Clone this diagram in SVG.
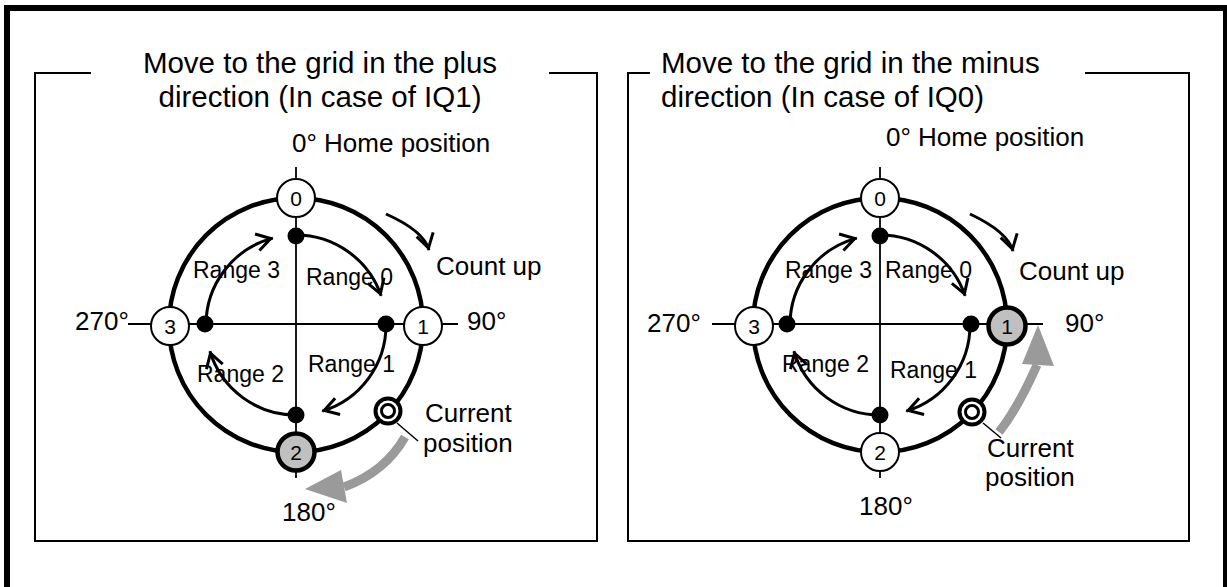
<svg xmlns="http://www.w3.org/2000/svg" width="1227" height="587" viewBox="0 0 1227 587">
<style>
text{font-family:"Liberation Sans",Arial,sans-serif;fill:#000}
.title{font-size:29.5px}
.lbl{font-size:26px}
.rng{font-size:23px}
.dig{font-size:21px;text-anchor:middle}
.box{fill:none;stroke:#000;stroke-width:2}
.axis{stroke:#000;stroke-width:1.8;fill:none}
.outer{fill:none;stroke:#000;stroke-width:4.5}
.arc{fill:none;stroke:#000;stroke-width:3;marker-end:url(#chev)}
.dot{fill:#000}
.node{fill:#fff;stroke:#000;stroke-width:2}
.nodeg{fill:#c0c0c0;stroke:#000;stroke-width:4.5}
.gshaft{fill:none;stroke:#9a9a9a;stroke-width:9}
.gh{fill:#9a9a9a}
.lead{stroke:#000;stroke-width:1.5}
</style>
<defs>
<marker id="chev" markerUnits="userSpaceOnUse" viewBox="-22 -12 26 24" markerWidth="26" markerHeight="24" refX="0" refY="0" orient="auto" overflow="visible">
<path d="M-16,-8.5 L-2,0 L-16,8.5" fill="none" stroke="#000" stroke-width="3"/>
</marker>
</defs>
<rect x="7" y="8" width="1219" height="620" fill="none" stroke="#000" stroke-width="6"/>

<!-- Left panel -->
<g id="panel-left">
<path class="box" d="M91,73 H35 V541 H597 V73 H549"/>
<text class="title" x="320" y="73" text-anchor="middle">Move to the grid in the plus</text>
<text class="title" x="320" y="107" text-anchor="middle">direction (In case of IQ1)</text>
<text class="lbl" x="292" y="152">0° Home position</text>
<text class="lbl" x="436" y="275">Count up</text>
<text class="lbl" x="75" y="330">270°</text>
<text class="lbl" x="467" y="330">90°</text>
<text class="lbl" x="425" y="422">Current</text>
<text class="lbl" x="423" y="452">position</text>
<text class="lbl" x="282" y="521">180°</text>
<text class="rng" x="193" y="278">Range 3</text>
<text class="rng" x="306" y="285">Range 0</text>
<text class="rng" x="197" y="382">Range 2</text>
<text class="rng" x="308" y="372">Range 1</text>
</g>
<g id="connectors-left">
<line class="axis" x1="296" y1="167" x2="296" y2="478"/>
<line class="axis" x1="128" y1="324" x2="458" y2="324"/>
<circle class="outer" cx="296" cy="325" r="127"/>
<path class="arc" d="M296,235 A90,90 0 0 1 381.1,295.7"/>
<path class="arc" d="M386,325 A90,90 0 0 1 322.3,411.1"/>
<path class="arc" d="M296,415 A90,90 0 0 1 209.9,351.3"/>
<path class="arc" d="M206,325 A90,90 0 0 1 272.7,238.1"/>
<path class="arc" d="M386,214 Q424,231 429,250"/>
<path class="gshaft" d="M405,437 Q385,472 344,487"/>
<polygon class="gh" points="305,489 341,470 347,503"/>
<line class="lead" x1="397" y1="423" x2="418" y2="441"/>
<circle class="dot" cx="296" cy="236" r="8.5"/>
<circle class="dot" cx="386" cy="324" r="8.5"/>
<circle class="dot" cx="296" cy="415" r="8.5"/>
<circle class="dot" cx="205" cy="324" r="8.5"/>
</g>
<g id="left-node-0"><circle class="node" cx="296" cy="198" r="19"/><text class="dig" x="296" y="206">0</text></g>
<g id="left-node-1"><circle class="node" cx="423" cy="326" r="19"/><text class="dig" x="423" y="334">1</text></g>
<g id="left-node-2"><circle class="nodeg" cx="296" cy="452" r="18.5"/><text class="dig" x="296" y="460">2</text></g>
<g id="left-node-3"><circle class="node" cx="170" cy="326" r="19"/><text class="dig" x="170" y="334">3</text></g>
<g id="left-current"><circle cx="388" cy="411" r="12.5" fill="#fff" stroke="#000" stroke-width="4"/><circle cx="388" cy="411" r="6.5" fill="#fff" stroke="#000" stroke-width="3"/></g>

<!-- Right panel -->
<g id="panel-right">
<path class="box" d="M650,73 H628 V541 H1189 V73 H1085"/>
<text class="title" x="661" y="73">Move to the grid in the minus</text>
<text class="title" x="661" y="107">direction (In case of IQ0)</text>
<text class="lbl" x="886" y="146">0° Home position</text>
<text class="lbl" x="1019" y="280">Count up</text>
<text class="lbl" x="647" y="332">270°</text>
<text class="lbl" x="1065" y="332">90°</text>
<text class="lbl" x="987" y="457">Current</text>
<text class="lbl" x="985" y="486">position</text>
<text class="lbl" x="859" y="515">180°</text>
<text class="rng" x="785" y="278">Range 3</text>
<text class="rng" x="885" y="278">Range 0</text>
<text class="rng" x="782" y="372">Range 2</text>
<text class="rng" x="890" y="378">Range 1</text>
</g>
<g id="connectors-right">
<line class="axis" x1="880" y1="167" x2="880" y2="478"/>
<line class="axis" x1="712" y1="324" x2="1043" y2="324"/>
<circle class="outer" cx="880" cy="325" r="127"/>
<path class="arc" d="M880,235 A90,90 0 0 1 965.1,295.7"/>
<path class="arc" d="M970,325 A90,90 0 0 1 906.3,411.1"/>
<path class="arc" d="M880,415 A90,90 0 0 1 793.9,351.3"/>
<path class="arc" d="M790,325 A90,90 0 0 1 856.7,238.1"/>
<path class="arc" d="M970,214 Q1008,232 1013,251"/>
<path class="gshaft" d="M999,432 Q1018,408 1037,365"/>
<polygon class="gh" points="1038,325 1022,364 1054,366"/>
<line class="lead" x1="983" y1="423" x2="1001" y2="438"/>
<circle class="dot" cx="880" cy="236" r="8.5"/>
<circle class="dot" cx="971" cy="324" r="8.5"/>
<circle class="dot" cx="880" cy="415" r="8.5"/>
<circle class="dot" cx="787" cy="324" r="8.5"/>
</g>
<g id="right-node-0"><circle class="node" cx="880" cy="198" r="19"/><text class="dig" x="880" y="206">0</text></g>
<g id="right-node-1"><circle class="nodeg" cx="1007" cy="326" r="18.5"/><text class="dig" x="1007" y="334">1</text></g>
<g id="right-node-2"><circle class="node" cx="880" cy="452" r="19"/><text class="dig" x="880" y="460">2</text></g>
<g id="right-node-3"><circle class="node" cx="754" cy="326" r="19"/><text class="dig" x="754" y="334">3</text></g>
<g id="right-current"><circle cx="972" cy="412" r="12.5" fill="#fff" stroke="#000" stroke-width="4"/><circle cx="972" cy="412" r="6.5" fill="#fff" stroke="#000" stroke-width="3"/></g>
</svg>
